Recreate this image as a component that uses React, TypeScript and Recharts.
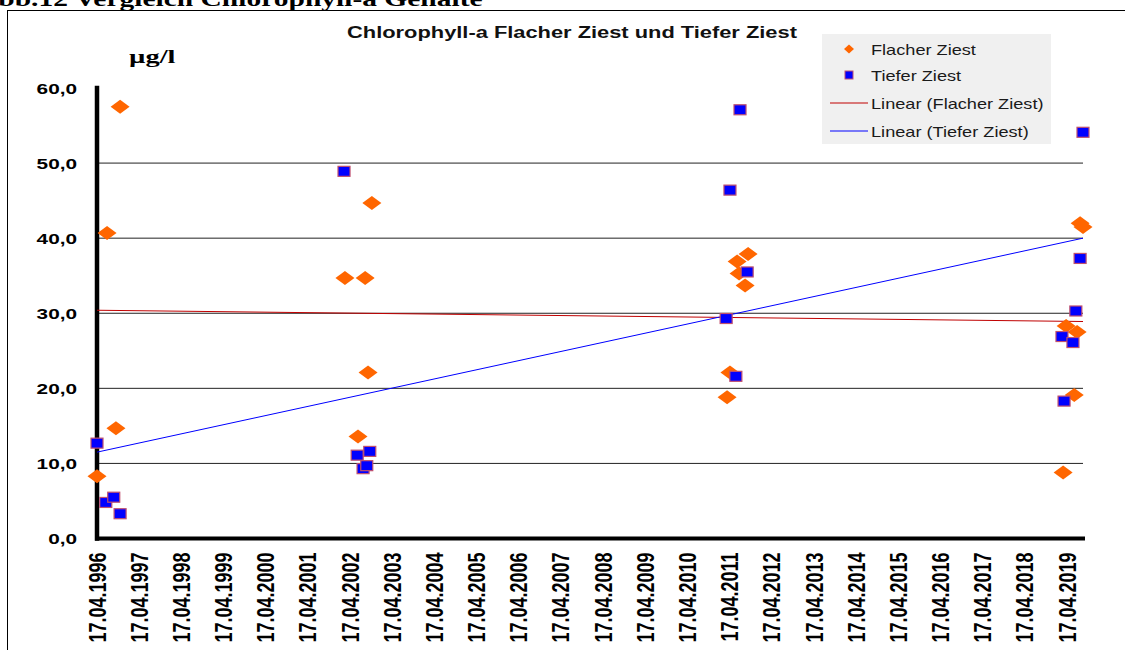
import React from 'react';
import { ScatterChart, Scatter, XAxis, YAxis, ReferenceLine } from 'recharts';

const flacherDates = [
  '1996-04-17', '1996-07-13', '1996-09-28', '1996-11-03',
  '2002-03-04', '2002-06-25', '2002-08-26', '2002-09-20', '2002-10-23',
  '2011-03-26', '2011-04-20', '2011-06-21', '2011-07-08', '2011-08-29', '2011-09-24',
  '2019-03-14', '2019-04-09', '2019-06-18', '2019-07-13', '2019-08-08', '2019-09-02',
];
const flacherValues = [
  8.3, 40.7, 14.7, 57.5,
  34.7, 13.6, 34.7, 22.1, 44.7,
  18.8, 22.1, 36.9, 35.3, 33.7, 37.9,
  8.8, 28.3, 19.1, 27.5, 42.0, 41.5,
];

const tieferDates = [
  '1996-04-17', '1996-07-02', '1996-09-09', '1996-11-03',
  '2002-02-24', '2002-06-18', '2002-08-08', '2002-09-09', '2002-10-05',
  '2011-03-18', '2011-04-20', '2011-06-10', '2011-07-16', '2011-09-16',
  '2019-03-04', '2019-03-22', '2019-06-07', '2019-07-02', '2019-08-08', '2019-09-02',
];
const tieferValues = [
  12.7, 4.8, 5.5, 3.3,
  48.9, 11.1, 9.3, 9.7, 11.6,
  29.3, 46.4, 21.6, 57.1, 35.5,
  26.9, 18.3, 26.1, 30.3, 37.3, 54.1,
];

// lineare Trendlinien (Anfang / Ende)
const trendDates = ['1996-04-17', '2019-09-02'];
const trendFlacher = [30.4, 28.9];
const trendTiefer = [11.5, 40.0];

const xTickLabels = [
  '17.04.1996', '17.04.1997', '17.04.1998', '17.04.1999', '17.04.2000', '17.04.2001',
  '17.04.2002', '17.04.2003', '17.04.2004', '17.04.2005', '17.04.2006', '17.04.2007',
  '17.04.2008', '17.04.2009', '17.04.2010', '17.04.2011', '17.04.2012', '17.04.2013',
  '17.04.2014', '17.04.2015', '17.04.2016', '17.04.2017', '17.04.2018', '17.04.2019',
];
const yTicks = [0, 10, 20, 30, 40, 50, 60];
const gridValues = [10, 20, 30, 40, 50];

const ORANGE = '#FF6600';
const BLUE = '#0000FF';
const SQUARE_EDGE = '#C0506E';
const RED = '#C00000';
const SANS = '"Liberation Sans", Arial, sans-serif';
const SERIF = '"Liberation Serif", "Times New Roman", serif';

const toTime = (iso: string) => Date.parse(iso);
const labelToTime = (l: string) => {
  const [d, m, y] = l.split('.');
  return Date.UTC(+y, +m - 1, +d);
};
const fmtDate = (t: number) => {
  const d = new Date(t);
  const p = (n: number) => String(n).padStart(2, '0');
  return `${p(d.getUTCDate())}.${p(d.getUTCMonth() + 1)}.${d.getUTCFullYear()}`;
};

const flacherData = flacherDates.map((d, i) => ({ t: toTime(d), v: flacherValues[i] }));
const tieferData = tieferDates.map((d, i) => ({ t: toTime(d), v: tieferValues[i] }));
const trendFData = trendDates.map((d, i) => ({ t: toTime(d), v: trendFlacher[i] }));
const trendTData = trendDates.map((d, i) => ({ t: toTime(d), v: trendTiefer[i] }));

const xTicks = xTickLabels.map(labelToTime);
const xMin = xTicks[0];
const xMax = Math.max(...flacherData.map((p) => p.t), ...tieferData.map((p) => p.t));

const Diamond = (p: any) => (
  <polygon
    points={`${p.cx - 9.5},${p.cy} ${p.cx},${p.cy - 7} ${p.cx + 9.5},${p.cy} ${p.cx},${p.cy + 7}`}
    fill={ORANGE}
  />
);

const Square = (p: any) => (
  <rect x={p.cx - 6} y={p.cy - 5} width={12} height={10} fill={BLUE} stroke={SQUARE_EDGE} strokeWidth={1.2} />
);

const YTick = (p: any) => (
  <g transform={`translate(${p.x},${p.y}) scale(1.34,1)`}>
    <text textAnchor="end" dy="0.36em" fontSize={15.5} fontWeight="bold" fill="#000" fontFamily={SANS}>
      {p.payload.value.toFixed(1).replace('.', ',')}
    </text>
  </g>
);

const XTick = (p: any) => (
  <g transform={`translate(${p.x},${p.y})`}>
    <text
      transform="rotate(-90) scale(1,1.32)"
      textAnchor="end"
      dy="0.36em"
      fontSize={18}
      fontWeight="bold"
      fill="#000"
      fontFamily={SANS}
    >
      {fmtDate(p.payload.value)}
    </text>
  </g>
);

function LegendBox() {
  const row = { position: 'absolute' as const, fontSize: 15, lineHeight: '15px', color: '#1a1a1a', transform: 'scaleX(1.21)', transformOrigin: 'left center', whiteSpace: 'nowrap' as const };
  return (
    <div style={{ position: 'absolute', left: 822, top: 34, width: 229, height: 110, background: '#f0f0f0' }}>
      <svg width={229} height={110} style={{ position: 'absolute', left: 0, top: 0 }}>
        <polygon points="22,15 27,10.5 32,15 27,19.5" fill={ORANGE} />
        <rect x={23} y={37} width={8} height={8} fill={BLUE} stroke={SQUARE_EDGE} strokeWidth={1} />
        <line x1={8} x2={46} y1={69} y2={69} stroke={RED} strokeWidth={1} />
        <line x1={8} x2={46} y1={97} y2={97} stroke={BLUE} strokeWidth={1} />
      </svg>
      <div style={{ ...row, left: 49, top: 15 - 7.5 }}>Flacher Ziest</div>
      <div style={{ ...row, left: 49, top: 41 - 7.5 }}>Tiefer Ziest</div>
      <div style={{ ...row, left: 49, top: 69 - 7.5 }}>Linear (Flacher Ziest)</div>
      <div style={{ ...row, left: 49, top: 97 - 7.5 }}>Linear (Tiefer Ziest)</div>
    </div>
  );
}

export default function App() {
  return (
    <div style={{ position: 'fixed', left: 0, top: 0, width: 1125, height: 650, overflow: 'hidden', background: '#fff', fontFamily: SANS }}>
      {/* Seitenüberschrift, oben abgeschnitten wie in der Vorlage */}
      <div
        style={{
          position: 'absolute', left: -23, top: -12, fontFamily: SERIF, fontWeight: 'bold', fontSize: 22,
          lineHeight: '22px', transform: 'scaleX(1.34)', transformOrigin: 'left top', whiteSpace: 'nowrap', color: '#000',
        }}
      >
        Abb.12 Vergleich Chlorophyll-a Gehalte
      </div>

      {/* Rahmen */}
      <div style={{ position: 'absolute', left: 7, top: 10, width: 1200, height: 700, border: '1px solid #000' }} />

      <div style={{ position: 'absolute', left: 0, top: 0 }}>
        <ScatterChart width={1125} height={650} margin={{ top: 88, right: 42, left: 37, bottom: 11.5 }}>
          <XAxis
            dataKey="t"
            type="number"
            domain={[xMin, xMax]}
            ticks={xTicks}
            interval={0}
            height={100}
            tickLine={false}
            tickSize={0}
            tickMargin={14}
            axisLine={{ stroke: '#000', strokeWidth: 4, strokeLinecap: 'square' }}
            tick={<XTick />}
          />
          <YAxis
            dataKey="v"
            type="number"
            domain={[0, 60]}
            ticks={yTicks}
            interval={0}
            width={60}
            tickLine={false}
            tickSize={0}
            tickMargin={20}
            axisLine={{ stroke: '#000', strokeWidth: 4.5, strokeLinecap: 'square' }}
            tick={<YTick />}
          />
          {gridValues.map((g) => (
            <ReferenceLine key={g} y={g} stroke="#222" strokeWidth={1} />
          ))}
          <Scatter data={trendFData} line={{ stroke: RED, strokeWidth: 1 }} shape={() => <g />} isAnimationActive={false} />
          <Scatter data={trendTData} line={{ stroke: BLUE, strokeWidth: 1 }} shape={() => <g />} isAnimationActive={false} />
          <Scatter data={flacherData} shape={Diamond} isAnimationActive={false} />
          <Scatter data={tieferData} shape={Square} isAnimationActive={false} />
        </ScatterChart>
      </div>

      <div
        style={{
          position: 'absolute', left: 571.5, top: 24.7, fontSize: 16, lineHeight: '16px', fontWeight: 'bold', color: '#111',
          transform: 'translateX(-50%) scaleX(1.365)', whiteSpace: 'nowrap',
        }}
      >
        Chlorophyll-a Flacher Ziest und Tiefer Ziest
      </div>

      <div
        style={{
          position: 'absolute', left: 129, top: 47, fontFamily: SERIF, fontWeight: 'bold', fontSize: 19, lineHeight: '19px',
          transform: 'scaleX(1.5)', transformOrigin: 'left top', color: '#000',
        }}
      >
        µg/l
      </div>

      <LegendBox />
    </div>
  );
}
